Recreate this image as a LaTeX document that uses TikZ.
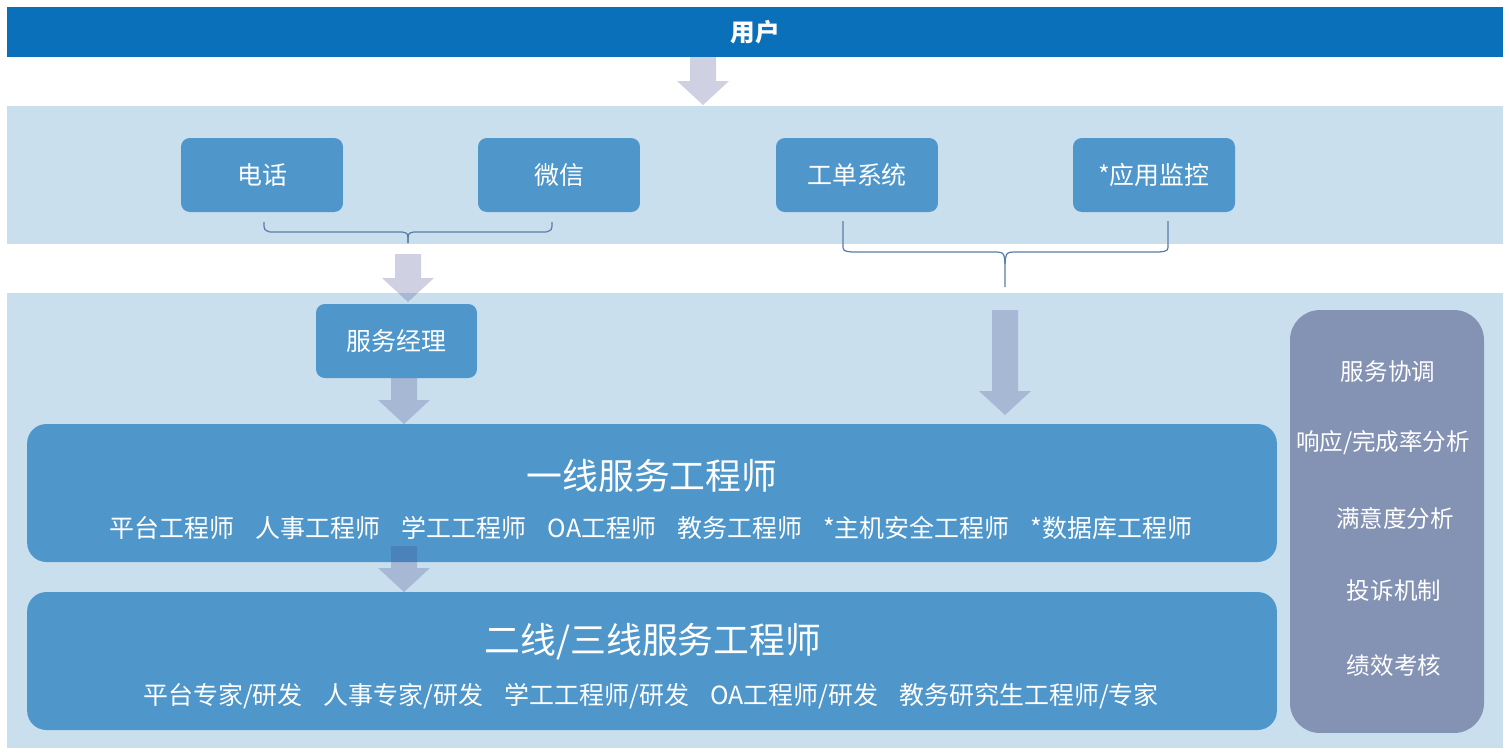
\documentclass[tikz,border=0pt]{standalone}
\usepackage{fontspec}
\setmainfont{Noto Sans CJK SC}
\definecolor{topblue}{HTML}{0B70BA}
\definecolor{bandblue}{HTML}{C9DFEE}
\definecolor{boxblue}{HTML}{4F97CB}
\definecolor{panelgray}{HTML}{8492B3}
\definecolor{arrowcol}{HTML}{41478A}
\definecolor{bracecol}{HTML}{5A7DAA}
\newcommand{\blkarrow}[3]{% center x, top y, bottom y
  \fill[arrowcol, fill opacity=0.25] (#1-13,#2) -- (#1+13,#2) -- (#1+13,#3-24) -- (#1+26,#3-24) -- (#1,#3) -- (#1-26,#3-24) -- (#1-13,#3-24) -- cycle;}
\begin{document}
\begin{tikzpicture}[x=0.02cm,y=-0.02cm,
  band/.style={fill=bandblue},
  smallbox/.style={fill=boxblue, rounded corners=5pt, minimum width=3.24cm, minimum height=1.48cm, text=white, font=\fontsize{14.2pt}{16pt}\selectfont, inner sep=0pt},
  bigbox/.style={fill=boxblue, rounded corners=11pt, minimum width=25cm, minimum height=2.76cm, inner sep=0pt},
  titletext/.style={text=white, font=\fontsize{20.4pt}{24pt}\selectfont, inner sep=0pt},
  subtext/.style={text=white, font=\fontsize{14.2pt}{16pt}\selectfont, inner sep=0pt},
  paneltext/.style={text=white, font=\fontsize{13.4pt}{16pt}\selectfont, inner sep=0pt},
  bracepath/.style={draw=bracecol, line width=0.7pt}]
\useasboundingbox (0,0) rectangle (1510,755);
\fill[white] (0,0) rectangle (1510,755);
% top bar
\node[fill=topblue, minimum width=29.92cm, minimum height=1cm, inner sep=0pt, text=white, font=\bfseries\fontsize{14pt}{16pt}\selectfont] (user) at (755,32) {用户};
% bands
\fill[band] (7,106) rectangle (1503,244);
\fill[band] (7,293) rectangle (1503,748);
% arrow user -> channels
\blkarrow{703}{57}{105}
% channel boxes
\node[smallbox] (phone) at (262,175) {电话};
\node[smallbox] (wechat) at (559,175) {微信};
\node[smallbox] (ticket) at (857,175) {工单系统};
\node[smallbox] (monitor) at (1154,175) {*应用监控};
% brace 1
\draw[bracepath] (264,222) .. controls (264,230) .. (270,232) -- (402,232) .. controls (408,233) .. (408,243);
\draw[bracepath] (552,222) .. controls (552,230) .. (546,232) -- (414,232) .. controls (408,233) .. (408,243);
% brace 2
\draw[bracepath] (843,221) -- (843,244) .. controls (843,251) .. (852,252) -- (992,252) .. controls (1004,252) .. (1005,264) -- (1005,287);
\draw[bracepath] (1168,221) -- (1168,244) .. controls (1168,251) .. (1159,252) -- (1018,252) .. controls (1006,252) .. (1005,264);
% arrow to manager
\blkarrow{408}{254}{302}
% manager
\node[smallbox, minimum width=3.22cm] (manager) at (396.5,341) {服务经理};
% arrows to first line
\blkarrow{404}{378}{424}
\blkarrow{1005}{310}{415}
% first line
\node[bigbox] (first) at (652,493) {};
\node[titletext] (firsttitle) at (652,476) {一线服务工程师};
\node[subtext] (firstsub) at (651,528) {平台工程师\hspace{0.85em}人事工程师\hspace{0.85em}学工工程师\hspace{0.85em}OA工程师\hspace{0.85em}教务工程师\hspace{0.85em}*主机安全工程师\hspace{0.85em}*数据库工程师};
% second line
\node[bigbox] (second) at (652,661) {};
\blkarrow{404}{546}{592}
\node[titletext] (secondtitle) at (653,642) {二线/三线服务工程师};
\node[subtext] (secondsub) at (651,696) {平台专家/研发\hspace{0.85em}人事专家/研发\hspace{0.85em}学工工程师/研发\hspace{0.85em}OA工程师/研发\hspace{0.85em}教务研究生工程师/专家};
% right panel
\node[fill=panelgray, rounded corners=17pt, minimum width=3.88cm, minimum height=8.46cm, inner sep=0pt] (panel) at (1387,521.5) {};
\node[paneltext] (p1) at (1388,372) {服务协调};
\node[paneltext] (p2) at (1383,443) {响应/完成率分析};
\node[paneltext] (p3) at (1395,518) {满意度分析};
\node[paneltext] (p4) at (1394,591) {投诉机制};
\node[paneltext] (p5) at (1394,666) {绩效考核};
\end{tikzpicture}
\end{document}
